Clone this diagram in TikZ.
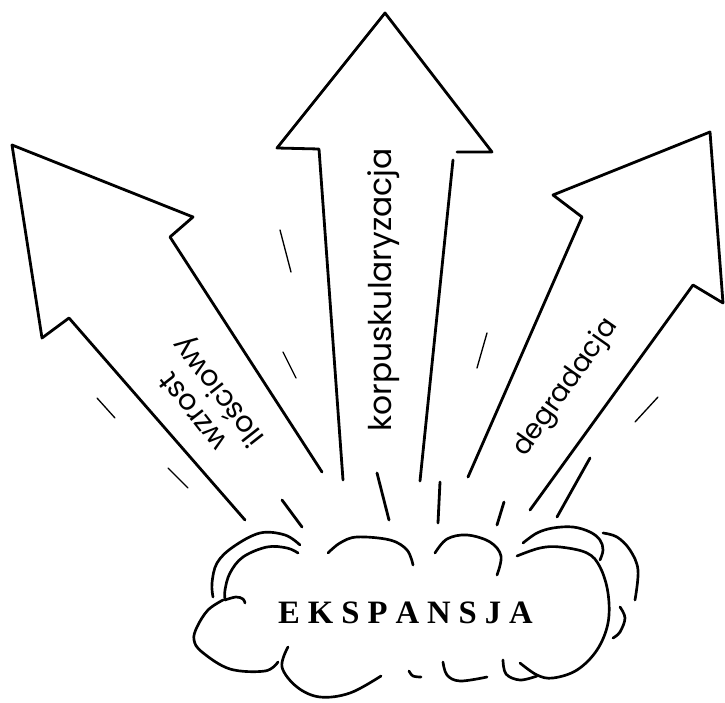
\documentclass[tikz,border=0pt]{standalone}
\usepackage{fontspec}
\newfontfamily\labfont{Poppins}
\newfontfamily\titlefont{Liberation Serif}
\begin{document}
\begin{tikzpicture}[x=0.75pt,y=-0.75pt,line join=round,line cap=round,
  arrowline/.style={line width=2.1pt},
  speedthin/.style={line width=1.0pt},
  speedthick/.style={line width=2.1pt},
  cloudline/.style={line width=2.0pt},
  lab/.style={inner sep=0pt},
  title/.style={font=\titlefont\bfseries\fontsize{24.5}{28}\selectfont,inner sep=0pt}]
\useasboundingbox (0,0) rectangle (725,703);
\fill[white] (0,0) rectangle (725,703);

% left arrow
\draw[arrowline] (245,520) -- (69,318) -- (42,338) -- (12,145) -- (193,217) -- (170,237) -- (322,472);
% middle arrow
\draw[arrowline] (343,480) -- (319,149) -- (277,148) -- (385,13) -- (492,152) -- (457,152);
\draw[arrowline] (453,160) -- (420,481);
% right arrow
\draw[arrowline] (468,477) -- (582,217) -- (553,195) -- (710,132) -- (723,303) -- (693,285) -- (530,510);

% speed dashes
\draw[speedthin] (280,230) -- (291,272);
\draw[speedthin] (283,352) -- (296,378);
\draw[speedthin] (97,398) -- (115,418);
\draw[speedthin] (168,468) -- (188,488);
\draw[speedthin] (487,333) -- (477,368);
\draw[speedthin] (658,397) -- (635,422);
\draw[speedthick] (282,500) -- (302,527);
\draw[speedthick] (377,473) -- (389,520);
\draw[speedthick] (440,482) -- (438,523);
\draw[speedthick] (504,502) -- (497,525);
\draw[speedthick] (590,458) -- (557,517);

% cloud
\draw[cloudline] plot[smooth,tension=0.6] coordinates {(300,545) (285,535) (260,533) (233,547) (217,563) (212,583) (213,597)};
\draw[cloudline] plot[smooth,tension=0.6] coordinates {(298,553) (287,548) (267,547) (243,557) (230,573) (225,590) (225,600)};
\draw[cloudline] plot[smooth,tension=0.6] coordinates {(225,600) (236,597) (243,599) (245,603)};
\draw[cloudline] plot[smooth,tension=0.6] coordinates {(223,600) (208,610) (197,627) (194,640) (202,652) (230,669) (265,671) (278,662)};
\draw[cloudline] plot[smooth,tension=0.6] coordinates {(288,647) (282,667) (297,687) (320,697) (350,693) (381,676)};
\draw[cloudline] plot[smooth,tension=0.6] coordinates {(409,671) (413,676) (421,677)};
\draw[cloudline] plot[smooth,tension=0.6] coordinates {(443,662) (447,675) (460,681) (487,677)};
\draw[cloudline] plot[smooth,tension=0.6] coordinates {(503,660) (506,674) (520,680) (537,676)};
\draw[cloudline] plot[smooth,tension=0.6] coordinates {(517,556) (540,548) (560,547) (587,553) (600,567) (608,593) (608,623) (597,650) (577,670) (553,678) (537,675) (520,663)};
\draw[cloudline] plot[smooth,tension=0.6] coordinates {(523,543) (537,533) (553,528) (573,527) (590,532) (600,540) (603,550) (600,560)};
\draw[cloudline] plot[smooth,tension=0.6] coordinates {(603,533) (617,537) (630,550) (638,570) (635,600)};
\draw[cloudline] plot[smooth,tension=0.6] coordinates {(620,607) (625,618) (620,632) (613,638)};
\draw[cloudline] plot[smooth,tension=0.6] coordinates {(328,553) (340,543) (357,537) (390,540) (407,550) (413,565)};
\draw[cloudline] plot[smooth,tension=0.6] coordinates {(435,553) (447,539) (467,535) (490,542) (501,556) (497,575)};

% labels
\node[lab,rotate=128,align=center,font=\labfont\fontsize{21.5}{24}\selectfont] (wzrost) at (208,400) {wzrost\\ilościowy};
\node[lab,rotate=90,font=\labfont\fontsize{23.5}{26}\selectfont] (korp) at (384,290) {korpuskularyzacja};
\node[lab,rotate=55,font=\labfont\fontsize{20.5}{24}\selectfont] (degr) at (566,388) {degradacja};
\node[title,anchor=base] (eks) at (405.5,623) {E\kern6pt K\kern6pt S\kern6pt P\kern6pt A\kern6pt N\kern6pt S\kern6pt J\kern6pt A};
\end{tikzpicture}
\end{document}
